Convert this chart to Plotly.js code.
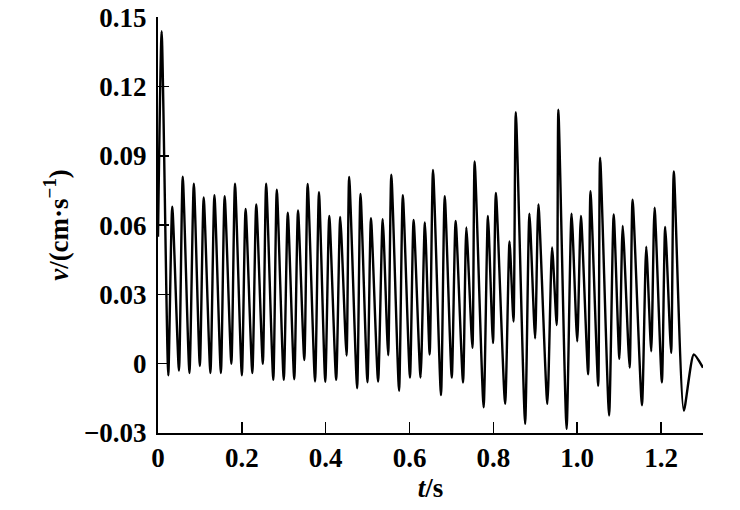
<!DOCTYPE html>
<html>
<head>
<meta charset="utf-8">
<script src="https://cdn.plot.ly/plotly-3.0.1.min.js"></script>
<style>html,body{margin:0;padding:0;background:#fff;}#chart{width:740px;height:510px;}</style>
</head>
<body>
<div id="chart"></div>
<script>
var timeS = [0, 0.0087, 0.0245, 0.034, 0.050, 0.059, 0.075, 0.0855, 0.0998, 0.109, 0.125, 0.1346, 0.150, 0.159, 0.175, 0.1837, 0.200, 0.209, 0.225, 0.2344, 0.250, 0.258, 0.275, 0.2834, 0.300, 0.3096, 0.325, 0.334, 0.349, 0.357, 0.3746, 0.384, 0.399, 0.4086, 0.425, 0.4347, 0.4497, 0.456, 0.475, 0.483, 0.4996, 0.508, 0.525, 0.536, 0.549, 0.5566, 0.575, 0.584, 0.601, 0.6097, 0.6263, 0.6366, 0.648, 0.656, 0.675, 0.684, 0.7007, 0.710, 0.7276, 0.7355, 0.75, 0.7553, 0.7767, 0.787, 0.799, 0.806, 0.828, 0.8385, 0.848, 0.8535, 0.8757, 0.886, 0.8995, 0.9074, 0.9287, 0.94, 0.951, 0.955, 0.9746, 0.9865, 1.0, 1.0088, 1.026, 1.0316, 1.05, 1.0546, 1.076, 1.087, 1.1005, 1.1085, 1.125, 1.132, 1.1544, 1.1646, 1.1765, 1.1845, 1.2019, 1.2098, 1.224, 1.2304, 1.2542, 1.278, 1.30];
var velocity = [0.055, 0.144, -0.005, 0.068, -0.003, 0.081, -0.004, 0.078, -0.001, 0.072, -0.004, 0.073, -0.004, 0.0726, 0.0, 0.078, -0.005, 0.067, -0.004, 0.069, 0.0, 0.078, -0.007, 0.0754, -0.007, 0.0654, -0.0067, 0.0664, 0.0016, 0.0779, -0.0077, 0.0743, -0.0078, 0.064, -0.007, 0.0636, 0.0036, 0.0809, -0.0106, 0.0736, -0.008, 0.063, -0.0077, 0.0626, 0.0037, 0.0819, -0.0117, 0.073, -0.006, 0.0623, -0.006, 0.0612, 0.004, 0.084, -0.0136, 0.0726, -0.006, 0.0619, -0.0081, 0.059, 0.0069, 0.0876, -0.0189, 0.064, 0.009, 0.074, -0.0174, 0.053, 0.0183, 0.109, -0.026, 0.065, 0.011, 0.069, -0.0174, 0.0504, 0.0168, 0.110, -0.0282, 0.065, 0.0097, 0.064, -0.0046, 0.0747, -0.0096, 0.0893, -0.0224, 0.0647, 0.0021, 0.0597, -0.0017, 0.0711, -0.018, 0.0507, 0.0054, 0.0676, -0.0081, 0.0593, 0.0047, 0.0833, -0.0203, 0.004, -0.0017];

var xTickVals = [0, 0.2, 0.4, 0.6, 0.8, 1.0, 1.2];
var xTickText = ["0", "0.2", "0.4", "0.6", "0.8", "1.0", "1.2"];
var yTickVals = [-0.03, 0, 0.03, 0.06, 0.09, 0.12, 0.15];
var yTickText = ["\u22120.03", "0", "0.03", "0.06", "0.09", "0.12", "0.15"];

var font = {family: "Liberation Serif, Times New Roman, serif", size: 27, color: "#000", weight: "bold"};

var trace = {
  x: timeS, y: velocity, type: "scatter", mode: "lines",
  line: {color: "#000", width: 2.4, shape: "spline", smoothing: 0.6},
  hoverinfo: "skip", cliponaxis: false
};

var layout = {
  width: 740, height: 510,
  margin: {l: 158, r: 37, t: 17, b: 77},
  paper_bgcolor: "#fff", plot_bgcolor: "#fff",
  showlegend: false,
  font: font,
  xaxis: {
    range: [0, 1.3], showgrid: false, zeroline: false,
    showline: true, linecolor: "#000", linewidth: 2,
    ticks: "inside", ticklen: 11, tickwidth: 1.5, tickcolor: "#000",
    tickmode: "array", tickvals: xTickVals, ticktext: xTickText,
    tickfont: font, ticklabelstandoff: 0, ticklabeloverflow: "allow",
    title: {text: "<i>t</i>/s", font: font, standoff: 4}
  },
  yaxis: {
    range: [-0.03, 0.1502], showgrid: false, zeroline: false,
    showline: true, linecolor: "#000", linewidth: 2,
    ticks: "inside", ticklen: 11, tickwidth: 1.5, tickcolor: "#000",
    tickmode: "array", tickvals: yTickVals, ticktext: yTickText,
    tickfont: font, ticklabelstandoff: 4, ticklabeloverflow: "allow",
    title: {text: "<i>v</i>/(cm·s<sup>−1</sup>)", font: font, standoff: 8}
  }
};

Plotly.newPlot("chart", [trace], layout, {staticPlot: true, displayModeBar: false});
</script>
</body>
</html>
